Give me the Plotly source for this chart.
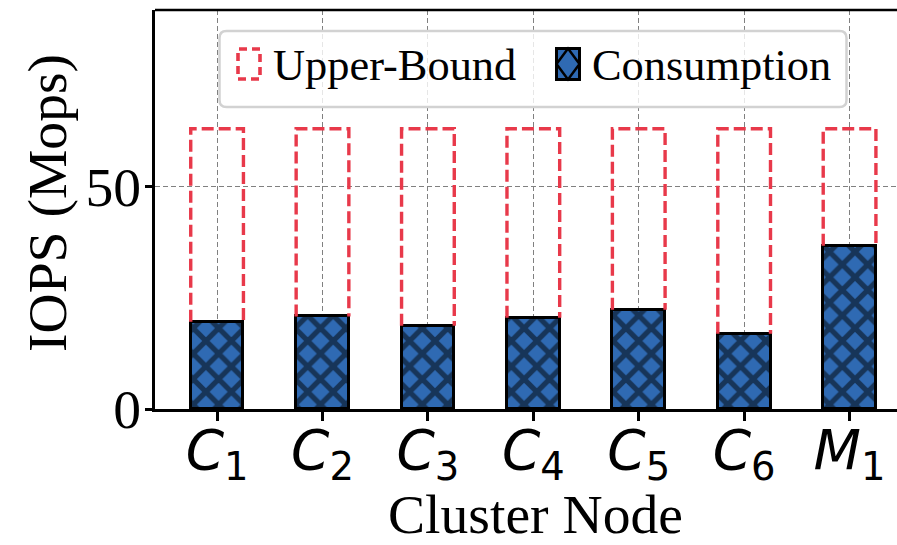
import plotly.graph_objects as go

# Data
nodes = ["C1", "C2", "C3", "C4", "C5", "C6", "M1"]
tick_text = ["<i>C</i><sub>1</sub>", "<i>C</i><sub>2</sub>", "<i>C</i><sub>3</sub>",
             "<i>C</i><sub>4</sub>", "<i>C</i><sub>5</sub>", "<i>C</i><sub>6</sub>",
             "<i>M</i><sub>1</sub>"]
upper_bound = [63.0, 63.0, 63.0, 63.0, 63.0, 63.0, 63.0]
consumption = [19.6, 20.8, 18.7, 20.5, 22.3, 16.9, 36.7]
y_ticks = [0, 50]

# Style
RED = "#e8394a"
BLUE = "#2f6ab3"
SERIF = "Liberation Serif"
SANS = "DejaVu Sans"
BAR_W = 0.5

W, H = 897, 545
L, T, B, R = 155, 10, 136, 0
PW, PH = W - L - R, H - T - B

def px(x):
    return (x - L) / PW

def py(y):
    return (H - B - y) / PH

positions = list(range(len(nodes)))

fig = go.Figure()

# Dashed outline of each upper-bound bar (visible part above consumption)
ox, oy = [], []
for i, (ub, c) in enumerate(zip(upper_bound, consumption)):
    ox += [i - BAR_W / 2, i - BAR_W / 2, i + BAR_W / 2, i + BAR_W / 2, None]
    oy += [c, ub, ub, c, None]
fig.add_trace(go.Scatter(
    x=ox, y=oy, mode="lines", name="Upper-Bound",
    line=dict(color=RED, width=3.4, dash="12px,5px"),
    showlegend=False, hoverinfo="skip",
))

# Hatched consumption bars
fig.add_trace(go.Bar(
    x=positions, y=consumption, width=BAR_W, name="Consumption",
    marker=dict(
        color=BLUE,
        line=dict(color="black", width=3),
        pattern=dict(shape="x", fgcolor="black", bgcolor=BLUE, size=18, solidity=0.5),
    ),
    showlegend=False,
))

shapes = []
# Top spine
shapes.append(dict(type="line", xref="paper", yref="paper", x0=0, x1=1, y0=1, y1=1,
                   line=dict(color="black", width=2.5)))

# Legend frame (rounded)
x0, x1, y0, y1 = px(219.5), px(846.5), py(107), py(31)
rx, ry = 7 / PW, 7 / PH
path = (f"M{x0+rx},{y0} L{x1-rx},{y0} Q{x1},{y0} {x1},{y0+ry} "
        f"L{x1},{y1-ry} Q{x1},{y1} {x1-rx},{y1} L{x0+rx},{y1} "
        f"Q{x0},{y1} {x0},{y1-ry} L{x0},{y0+ry} Q{x0},{y0} {x0+rx},{y0} Z")
shapes.append(dict(type="path", xref="paper", yref="paper", path=path,
                   fillcolor="rgba(255,255,255,0.8)", line=dict(color="#d2d2d2", width=2.5),
                   layer="above"))
# Legend key: upper bound
shapes.append(dict(type="rect", xref="paper", yref="paper",
                   x0=px(238), x1=px(260), y0=py(79), y1=py(49),
                   line=dict(color=RED, width=3.6, dash="8px,5px"), fillcolor="rgba(0,0,0,0)",
                   layer="above"))
# Legend key: consumption
shapes.append(dict(type="rect", xref="paper", yref="paper",
                   x0=px(556.5), x1=px(579.5), y0=py(79.5), y1=py(48.5),
                   line=dict(color="black", width=3), fillcolor=BLUE, layer="above"))
cx, cy = 568, 64
dpath = (f"M{px(cx)},{py(48.5)} L{px(579.5)},{py(cy)} L{px(cx)},{py(79.5)} "
         f"L{px(556.5)},{py(cy)} Z")
shapes.append(dict(type="path", xref="paper", yref="paper", path=dpath,
                   line=dict(color="black", width=2.5), fillcolor="rgba(0,0,0,0)",
                   layer="above"))

annotations = [
    dict(text="Upper-Bound", xref="paper", yref="paper", x=px(271), y=py(65),
         xanchor="left", yanchor="middle", showarrow=False,
         font=dict(family=SERIF, size=44.4, color="black")),
    dict(text="Consumption", xref="paper", yref="paper", x=px(590), y=py(65),
         xanchor="left", yanchor="middle", showarrow=False,
         font=dict(family=SERIF, size=44.4, color="black")),
    dict(text="Cluster Node", xref="paper", yref="paper", x=px(535), y=py(514),
         xanchor="center", yanchor="middle", showarrow=False,
         font=dict(family=SERIF, size=55.6, color="black")),
    dict(text="IOPS (Mops)", xref="paper", yref="paper", x=px(47), y=py(203),
         xanchor="center", yanchor="middle", textangle=-90, showarrow=False,
         font=dict(family=SERIF, size=55.6, color="black")),
]

fig.update_layout(
    width=W, height=H,
    margin=dict(l=L, r=R, t=T, b=B, pad=0),
    paper_bgcolor="white", plot_bgcolor="white",
    bargap=0, showlegend=False,
    shapes=shapes, annotations=annotations,
    xaxis=dict(
        range=[-0.589, 6.45],
        tickmode="array", tickvals=positions, ticktext=tick_text,
        tickfont=dict(family=SANS, size=55, color="black"),
        ticks="outside", ticklen=9, tickwidth=2.5, tickcolor="black",
        ticklabelstandoff=-18,
        showline=True, linecolor="black", linewidth=2.5,
        showgrid=True, gridcolor="#808080", gridwidth=1.3, griddash="5px,3px",
        zeroline=False,
    ),
    yaxis=dict(
        range=[0, 89.7],
        tickmode="array", tickvals=y_ticks, ticktext=[str(v) for v in y_ticks],
        tickfont=dict(family=SERIF, size=55.6, color="black"),
        ticks="outside", ticklen=7, tickwidth=2.5, tickcolor="black",
        ticklabelstandoff=-7,
        showline=True, linecolor="black", linewidth=2.5,
        showgrid=True, gridcolor="#808080", gridwidth=1.3, griddash="5px,3px",
        zeroline=False,
    ),
)

fig.write_html("out.html")
